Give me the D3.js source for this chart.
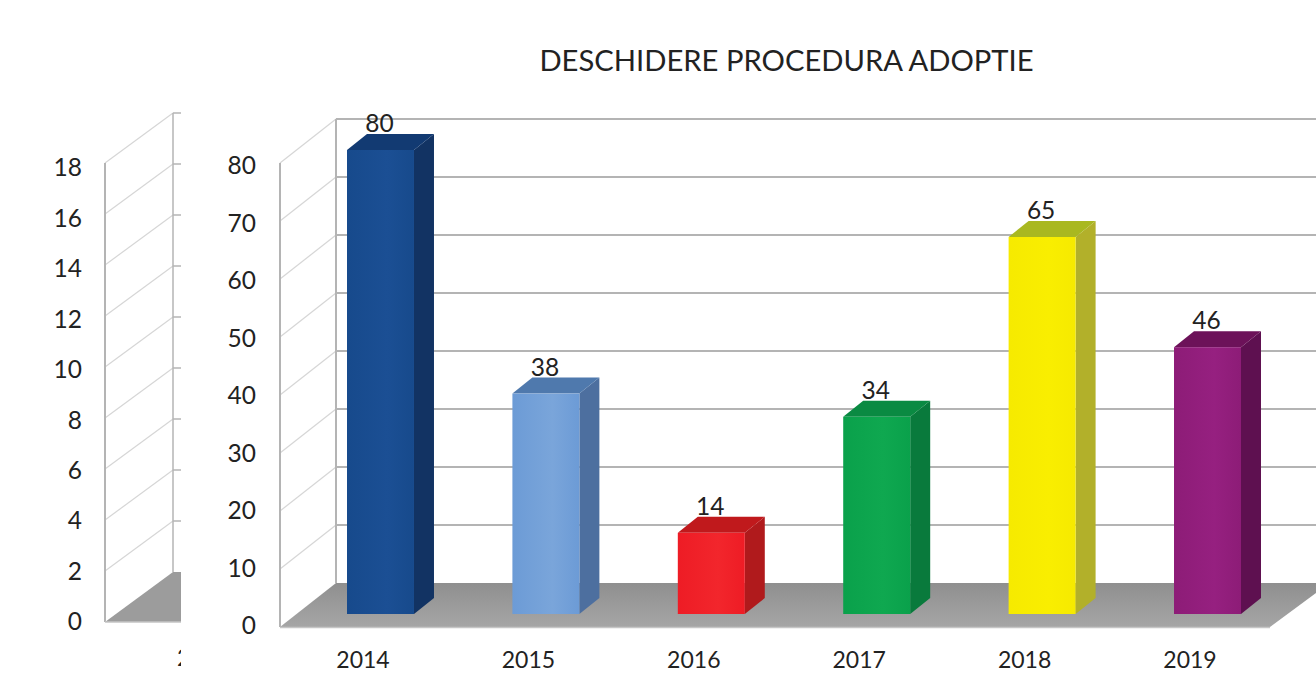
<!DOCTYPE html>
<html>
<head>
<meta charset="utf-8">
<script src="https://cdn.jsdelivr.net/npm/d3@7"></script>
<style>
  html, body { margin: 0; padding: 0; background: #fff; overflow: hidden; }
  text { font-family: Lato, "Open Sans", sans-serif; fill: #222; }
</style>
</head>
<body>
<svg id="chart" width="1316" height="673"></svg>
<script>
const years = ["2014", "2015", "2016", "2017", "2018", "2019"];
const values = [80, 38, 14, 34, 65, 46];
const frontColors = ["#174a8c", "#6c9bd6", "#ee1c25", "#0aa14b", "#f6ea00", "#8d1c77"];
const frontEdgeColors = ["#1b4f94", "#7aa5da", "#f2262c", "#0fa850", "#f9ee00", "#962080"];
const sideColors = ["#123363", "#4d6f9f", "#b01a1c", "#097a3c", "#b2b02a", "#5e1050"];
const topColors = ["#123a72", "#4f79ad", "#c0191c", "#0a8a42", "#a9b820", "#6c1259"];
const mainTicks = [0, 10, 20, 30, 40, 50, 60, 70, 80];
const leftTicks = [0, 2, 4, 6, 8, 10, 12, 14, 16, 18];
const title = "DESCHIDERE PROCEDURA ADOPTIE";

const svg = d3.select("#chart");
const gridColor = "#b4b4b4";
const sideGridColor = "#d6d6d6";
const labelFont = "Lato, 'Open Sans', sans-serif";

// main chart scales: front edge of the wall, back edge of the wall, bars, tick labels
const yFront = d3.scaleLinear().domain([0, 80]).range([627, 163]);
const yBack = d3.scaleLinear().domain([0, 80]).range([583, 119]);
const yBar = d3.scaleLinear().domain([0, 80]).range([614, 150]);
const yLabel = d3.scaleLinear().domain([0, 80]).range([625, 165]);
const x = d3.scaleBand().domain(years).range([347, 1241]).paddingInner(0.595);
const depthX = 20, depthY = -16;
const wallFront = 280, wallBack = 336, chartRight = 1316;

// the chart cut off behind the main one
svg.append("clipPath").attr("id", "leftClip")
    .append("rect").attr("x", 0).attr("y", 0).attr("width", 181).attr("height", 673);

const left = svg.append("g").attr("clip-path", "url(#leftClip)");
const yLeftFront = d3.scaleLinear().domain([0, 18]).range([622, 163]);
const yLeftBack = d3.scaleLinear().domain([0, 18]).range([572, 113]);
const yLeftLabel = d3.scaleLinear().domain([0, 18]).range([621, 167]);

left.append("polygon")
    .attr("points", [[105, yLeftFront(0)], [173, yLeftBack(0)], [260, yLeftBack(0)], [260, yLeftFront(0)]].join(" "))
    .attr("fill", "#9c9c9c");

left.append("g").selectAll("line")
    .data(leftTicks.slice(1))
    .enter().append("line")
    .attr("x1", 105)
    .attr("y1", d => yLeftFront(d))
    .attr("x2", 173)
    .attr("y2", d => yLeftBack(d))
    .attr("stroke", sideGridColor)
    .attr("stroke-width", 1.2);

left.append("g").selectAll("line")
    .data(leftTicks.slice(1))
    .enter().append("line")
    .attr("x1", 173)
    .attr("y1", d => yLeftBack(d))
    .attr("x2", 260)
    .attr("y2", d => yLeftBack(d))
    .attr("stroke", gridColor)
    .attr("stroke-width", 1.5);

left.append("line").attr("x1", 105).attr("x2", 105)
    .attr("y1", yLeftFront(18)).attr("y2", yLeftFront(0))
    .attr("stroke", gridColor).attr("stroke-width", 2);
left.append("line").attr("x1", 173).attr("x2", 173)
    .attr("y1", yLeftBack(18)).attr("y2", yLeftBack(0))
    .attr("stroke", gridColor).attr("stroke-width", 1.5);
left.append("line").attr("x1", 105).attr("x2", 260)
    .attr("y1", yLeftFront(0)).attr("y2", yLeftFront(0))
    .attr("stroke", "#c4c4c4").attr("stroke-width", 1.5);

const leftAxis = left.append("g")
    .attr("transform", "translate(82,0)")
    .call(d3.axisLeft(yLeftLabel).tickValues(leftTicks).tickSize(0).tickPadding(0));
leftAxis.select(".domain").remove();
leftAxis.selectAll("text").attr("font-size", 24.5).attr("dy", "0.36em")
    .style("font-family", labelFont);

left.append("text").attr("x", 177).attr("y", 666).attr("font-size", 23).text("2014");

// main chart: floor and walls
const floorFill = svg.append("linearGradient").attr("id", "floorFill")
    .attr("x1", 0).attr("y1", 0).attr("x2", 0).attr("y2", 1);
floorFill.append("stop").attr("offset", "0%").attr("stop-color", "#8f8f8f");
floorFill.append("stop").attr("offset", "100%").attr("stop-color", "#a6a6a6");

svg.append("polygon")
    .attr("points", [[wallFront, yFront(0)], [wallBack, yBack(0)], [chartRight, yBack(0)],
        [chartRight, yBack(0) + 10], [1270, yFront(0)]].join(" "))
    .attr("fill", "url(#floorFill)");
svg.append("line").attr("x1", wallFront).attr("x2", 1270)
    .attr("y1", yFront(0) + 0.5).attr("y2", yFront(0) + 0.5)
    .attr("stroke", "#c6c6c6").attr("stroke-width", 1.5);

svg.append("g").selectAll("line")
    .data(mainTicks.slice(1))
    .enter().append("line")
    .attr("x1", wallFront)
    .attr("y1", d => yFront(d))
    .attr("x2", wallBack)
    .attr("y2", d => yBack(d))
    .attr("stroke", sideGridColor)
    .attr("stroke-width", 1.2);

svg.append("g").selectAll("line")
    .data(mainTicks.slice(1))
    .enter().append("line")
    .attr("x1", wallBack)
    .attr("y1", d => yBack(d))
    .attr("x2", chartRight)
    .attr("y2", d => yBack(d))
    .attr("stroke", gridColor)
    .attr("stroke-width", 2);

svg.append("line").attr("x1", wallFront).attr("x2", wallFront)
    .attr("y1", yFront(80)).attr("y2", yFront(0))
    .attr("stroke", gridColor).attr("stroke-width", 2);
svg.append("line").attr("x1", wallBack).attr("x2", wallBack)
    .attr("y1", yBack(80)).attr("y2", yBack(0))
    .attr("stroke", gridColor).attr("stroke-width", 2);

// slight sheen across the bar fronts
const defs = svg.append("defs");
years.forEach((year, i) => {
    const g = defs.append("linearGradient").attr("id", "front" + year);
    g.append("stop").attr("offset", "0%").attr("stop-color", frontColors[i]);
    g.append("stop").attr("offset", "60%").attr("stop-color", frontEdgeColors[i]);
    g.append("stop").attr("offset", "100%").attr("stop-color", frontColors[i]);
});

// bars
const bars = svg.append("g").selectAll("g")
    .data(years.map((year, i) => ({ year, value: values[i], i })))
    .enter().append("g");

bars.append("polygon")
    .attr("points", d => {
        const r = x(d.year) + x.bandwidth();
        return [[r, yBar(d.value)], [r + depthX, yBar(d.value) + depthY],
            [r + depthX, yBar(0) + depthY], [r, yBar(0)]].join(" ");
    })
    .attr("fill", d => sideColors[d.i]);

bars.append("polygon")
    .attr("points", d => {
        const l = x(d.year), r = l + x.bandwidth(), t = yBar(d.value);
        return [[l, t], [l + depthX, t + depthY], [r + depthX, t + depthY], [r, t]].join(" ");
    })
    .attr("fill", d => topColors[d.i]);

bars.append("rect")
    .attr("x", d => x(d.year))
    .attr("y", d => yBar(d.value))
    .attr("width", x.bandwidth())
    .attr("height", d => yBar(0) - yBar(d.value))
    .attr("fill", d => `url(#front${d.year})`);

bars.append("text")
    .attr("x", d => x(d.year) + x.bandwidth() / 2 - 1)
    .attr("y", d => yBar(d.value) - 18)
    .attr("text-anchor", "middle")
    .attr("font-size", 24.5)
    .text(d => d.value);

// axes
const yAxis = svg.append("g")
    .attr("transform", "translate(256,0)")
    .call(d3.axisLeft(yLabel).tickValues(mainTicks).tickSize(0).tickPadding(0));
yAxis.select(".domain").remove();
yAxis.selectAll("text").attr("font-size", 24.5).attr("dy", "0.36em")
    .style("font-family", labelFont);

// year labels sit left of the bars, as in the source chart
const xAxis = svg.append("g")
    .attr("transform", "translate(-17.5,651.5)")
    .call(d3.axisBottom(x).tickSize(0).tickPadding(0));
xAxis.select(".domain").remove();
xAxis.selectAll("text").attr("font-size", 23).attr("dy", "0.7em")
    .style("font-family", labelFont);

svg.append("text")
    .attr("x", 786.5)
    .attr("y", 71)
    .attr("text-anchor", "middle")
    .attr("font-size", 29.2)
    .text(title);
</script>
</body>
</html>
